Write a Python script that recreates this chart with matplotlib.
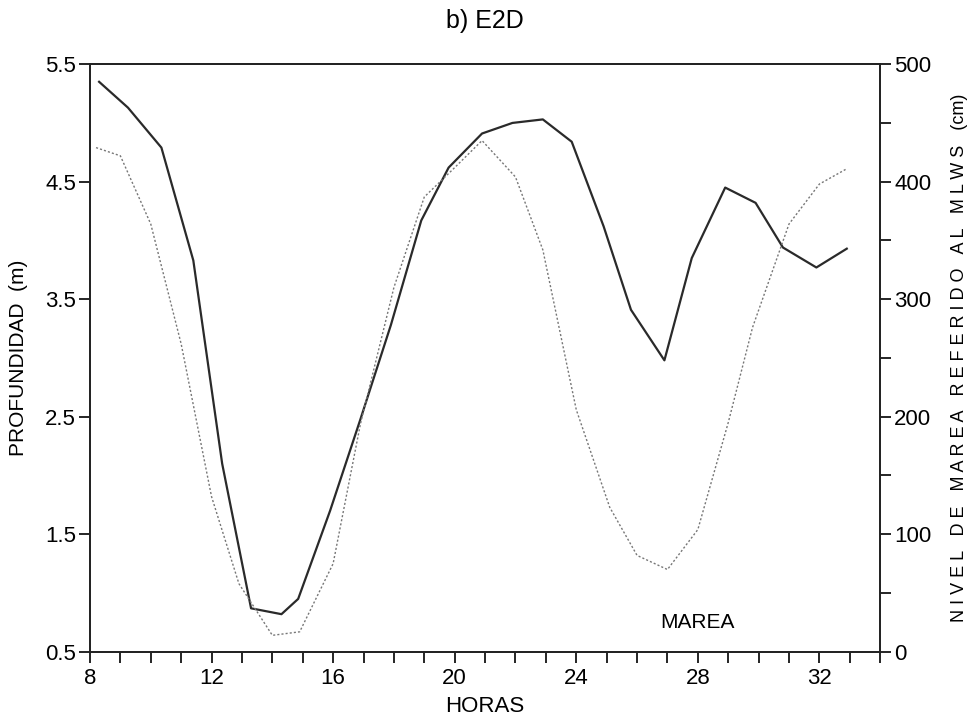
import numpy as np
import matplotlib
matplotlib.use("Agg")
import matplotlib.pyplot as plt
from matplotlib.ticker import MultipleLocator

plt.rcParams['font.family'] = ['Liberation Sans', 'DejaVu Sans']

# profundidad (m) en la estacion E2D
horas_prof = [8.3, 9.25, 10.35, 11.4, 12.35, 13.3, 14.3, 14.85, 15.9, 16.9, 17.9,
              18.9, 19.8, 20.9, 21.9, 22.9, 23.85, 24.9, 25.8, 26.9, 27.8, 28.9,
              29.9, 30.8, 31.9, 32.9]
profundidad = [5.35, 5.13, 4.79, 3.83, 2.1, 0.87, 0.82, 0.95, 1.7, 2.48, 3.28,
               4.17, 4.62, 4.91, 5.0, 5.03, 4.84, 4.12, 3.41, 2.98, 3.85, 4.45,
               4.32, 3.94, 3.77, 3.93]

# nivel de marea (cm) referido al MLWS
horas_marea = [8.2, 9, 10, 11, 12, 12.9, 14, 14.9, 16, 16.9, 18, 19, 20, 20.9,
               22, 22.9, 24, 25.1, 26, 27, 28, 29, 29.8, 31, 32, 32.9]
marea = [429, 422, 364, 262, 132, 58, 14, 17, 75, 194, 310, 387, 412, 435,
         404, 342, 206, 123, 82, 70, 104, 195, 276, 364, 398, 411]

fig = plt.figure(figsize=(9.78, 7.21), dpi=100)
ax = fig.add_axes([0.092, 0.096, 0.808, 0.815])
ax2 = ax.twinx()

ax.plot(horas_prof, profundidad, color='#2a2a2a', lw=1.6)
ax2.plot(horas_marea, marea, color='#777777', lw=1.0, linestyle=(0, (1.5, 1.5)))

ax.set_xlim(8, 34)
ax.set_ylim(0.5, 5.5)
ax2.set_ylim(0, 500)

ax.xaxis.set_major_locator(MultipleLocator(4))
ax.xaxis.set_minor_locator(MultipleLocator(1))
ax.set_yticks([0.5, 1.5, 2.5, 3.5, 4.5, 5.5])
ax.yaxis.set_major_formatter(matplotlib.ticker.FormatStrFormatter('%.1f'))
ax2.yaxis.set_major_locator(MultipleLocator(100))
ax2.yaxis.set_minor_locator(MultipleLocator(50))

for a in (ax, ax2):
    for s in a.spines.values():
        s.set_linewidth(1.3)
        s.set_color('#222222')
ax.tick_params(axis='x', which='both', direction='out', length=8, width=1.2,
               labelsize=16, pad=4, top=False)
ax.tick_params(axis='y', which='both', direction='out', length=8, width=1.2,
               labelsize=16, pad=2)
ax2.tick_params(axis='y', which='both', direction='out', length=8, width=1.2,
                labelsize=16, pad=2)

ax.set_xlabel('HORAS', fontsize=16, labelpad=5)
ax.set_ylabel('PROFUNDIDAD  (m)', fontsize=15, labelpad=12)
ax2.set_ylabel('N I V E L   D E   M A R E A   R E F E R I D O   A L   M L W S   (cm)',
               fontsize=13, labelpad=14)
ax.set_title('b) E2D', fontsize=18, pad=26)

ax.text(28, 0.75, 'MAREA', fontsize=15, ha='center', va='center')

fig.savefig('out.png', dpi=100)
